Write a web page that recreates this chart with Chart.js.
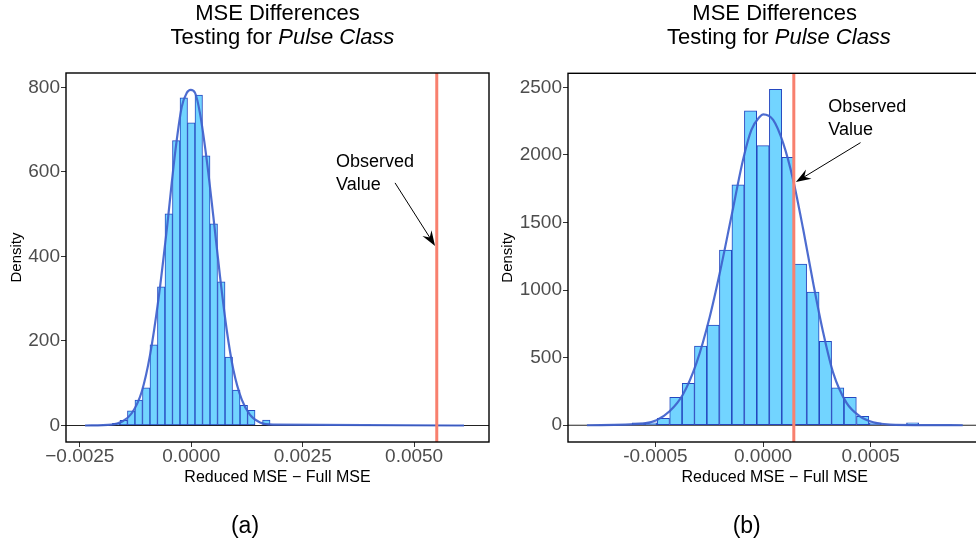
<!DOCTYPE html>
<html>
<head>
<meta charset="utf-8">
<script src="https://cdn.jsdelivr.net/npm/chart.js@4.4.1/dist/chart.umd.min.js"></script>
<style>
  html, body { margin: 0; padding: 0; width: 976px; height: 548px; overflow: hidden; background: #fff; }
  body { position: relative; font-family: "Liberation Sans", Arial, sans-serif; }
  .panel { position: absolute; top: 0; }
  .txt { position: absolute; width: 400px; text-align: center; white-space: pre; color: #000; }
  .title { font-size: 22px; line-height: 22px; }
  .cap { font-size: 23px; line-height: 23px; }
</style>
</head>
<body>
<div class="panel" style="left:0;width:490px;height:548px"><canvas id="chartA" width="490" height="548"></canvas></div>
<div class="panel" style="left:490px;width:496px;height:548px"><canvas id="chartB" width="496" height="548"></canvas></div>

<div class="txt title" style="left:77.5px;top:2px">MSE Differences</div>
<div class="txt title" style="left:82.5px;top:26.4px">Testing for <i>Pulse Class</i></div>
<div class="txt title" style="left:574.7px;top:2px">MSE Differences</div>
<div class="txt title" style="left:579px;top:26.4px">Testing for <i>Pulse Class</i></div>
<div class="txt cap" style="left:45px;top:513.6px">(a)</div>
<div class="txt cap" style="left:546.7px;top:513.6px">(b)</div>

<script>
const fontFamily = '"Liberation Sans", Arial, sans-serif';

// ---- panel (a) ----
const binsA = [-0.001684, -0.001516, -0.001347, -0.001179, -0.001010, -0.000842, -0.000674,
  -0.000505, -0.000337, -0.000168, 0, 0.000168, 0.000337, 0.000505, 0.000674, 0.000842,
  0.001010, 0.001179, 0.001347, 0.001516, 0.001684];
const densA = [5, 12, 35, 60, 89, 191, 328, 501, 674, 775, 716, 782, 638, 477, 340, 162,
  84, 48, 36, 0, 13];
const curveXA = [-0.002383, -0.001784, -0.001560, -0.001335, -0.001111, -0.000924, -0.000738,
  -0.000550, -0.000363, -0.000213, -0.000101, -0.000011, 0.000085, 0.000197, 0.000348,
  0.000496, 0.000646, 0.000796, 0.000945, 0.001133, 0.001319, 0.001543, 0.001842, 0.00612];
const curveYA = [0, 2, 9, 29, 80, 167, 297, 463, 644, 754, 787, 794, 787, 738, 628,
  494, 352, 226, 132, 61, 25, 7, 2, 0];
const xTicksA = [-0.0025, 0, 0.0025, 0.005];
const xLabelsA = ['\u22120.0025', '0.0000', '0.0025', '0.0050'];
const yTicksA = [0, 200, 400, 600, 800];
const xLimA = [-0.00281, 0.00668];
const yLimA = [-39, 834];
const observedA = 0.005508;
const noteXYA = [0.003249, 611];
const arrowFromA = [0.004572, 574];
const arrowToA = [0.00547, 425];

// ---- panel (b) ----
const binsB = [-0.000579, -0.000521, -0.000463, -0.000405, -0.000347, -0.000290, -0.000232,
  -0.000174, -0.000116, -0.000058, 0, 0.000058, 0.000116, 0.000174, 0.000232, 0.000290,
  0.000347, 0.000405, 0.000463, 0.000521, 0.000579, 0.000637, 0.000695];
const densB = [17, 17, 52, 207, 310, 586, 741, 1296, 1778, 2327, 2069, 2485, 1983, 1192,
  985, 621, 276, 207, 66, 17, 0, 0, 17];
const curveXB = [-0.000818, -0.000558, -0.000495, -0.000434, -0.000372, -0.000309, -0.000247,
  -0.000201, -0.000147, -0.000093, -0.000054, -0.000015, 0.0000005, 0.000047, 0.000094,
  0.000140, 0.000187, 0.000233, 0.000280, 0.000326, 0.000388, 0.000450, 0.000512, 0.000590,
  0.000928];
const curveYB = [0, 12, 37, 103, 227, 461, 805, 1126, 1544, 1963, 2185, 2283, 2300, 2259,
  2086, 1815, 1446, 1052, 682, 387, 165, 66, 22, 5, 0];
const xTicksB = [-0.0005, 0, 0.0005];
const xLabelsB = ['-0.0005', '0.0000', '0.0005'];
const yTicksB = [0, 500, 1000, 1500, 2000, 2500];
const xLimB = [-0.000906, 0.001014];
const yLimB = [-124, 2604];
const observedB = 0.000143;
const noteXYB = [0.000303, 2320];
const arrowFromB = [0.000453, 2091];
const arrowToB = [0.0001526, 1800];

const noteLines = ['Observed', 'Value'];

function drawArrow(ctx, x1, y1, x2, y2) {
  const ang = Math.atan2(y2 - y1, x2 - x1);
  const len = 16, spread = 0.34;
  ctx.beginPath();
  ctx.moveTo(x1, y1);
  ctx.lineTo(x2 - Math.cos(ang) * 9, y2 - Math.sin(ang) * 9);
  ctx.stroke();
  ctx.beginPath();
  ctx.moveTo(x2, y2);
  ctx.lineTo(x2 - len * Math.cos(ang - spread), y2 - len * Math.sin(ang - spread));
  ctx.lineTo(x2 - len * 0.62 * Math.cos(ang), y2 - len * 0.62 * Math.sin(ang));
  ctx.lineTo(x2 - len * Math.cos(ang + spread), y2 - len * Math.sin(ang + spread));
  ctx.closePath();
  ctx.fill();
}

const boxPlugin = {
  id: 'box',
  afterDraw(chart) {
    const { ctx, chartArea: a } = chart;
    ctx.save();
    ctx.strokeStyle = '#000';
    ctx.lineWidth = 1.4;
    ctx.strokeRect(a.left, a.top, a.right - a.left, a.bottom - a.top);
    ctx.restore();
  }
};

const notePlugin = {
  id: 'note',
  afterDatasetsDraw(chart, args, opts) {
    const { ctx, scales: { x, y } } = chart;
    ctx.save();
    ctx.fillStyle = '#000';
    ctx.strokeStyle = '#000';
    ctx.lineWidth = 1;
    ctx.font = '18px ' + fontFamily;
    ctx.textAlign = 'left';
    ctx.textBaseline = 'alphabetic';
    const tx = x.getPixelForValue(opts.at[0]);
    const ty = y.getPixelForValue(opts.at[1]);
    noteLines.forEach((t, i) => ctx.fillText(t, tx, ty + i * opts.gap));
    drawArrow(ctx,
      x.getPixelForValue(opts.from[0]), y.getPixelForValue(opts.from[1]),
      x.getPixelForValue(opts.to[0]), y.getPixelForValue(opts.to[1]));
    ctx.restore();
  }
};

function buildChart(id, p) {
  return new Chart(document.getElementById(id), {
    type: 'bar',
    data: {
      datasets: [
        {
          type: 'line',
          data: [{ x: p.observed, y: p.yLim[0] }, { x: p.observed, y: p.yLim[1] }],
          borderColor: '#F8806E', borderWidth: 3, pointRadius: 0, order: 0
        },
        {
          type: 'line',
          data: p.curveX.map((v, i) => ({ x: v, y: p.curveY[i] })),
          borderColor: 'rgba(62,96,204,0.92)', borderWidth: 2.2, pointRadius: 0,
          cubicInterpolationMode: 'monotone', order: 1
        },
        {
          type: 'bar',
          data: p.bins.map((v, i) => ({ x: v, y: p.dens[i] })),
          backgroundColor: '#72D4FF', borderColor: '#2447C0', borderWidth: 1,
          borderSkipped: false, barPercentage: 1, categoryPercentage: 1, order: 2
        },
        {
          type: 'line',
          data: [{ x: p.xLim[0], y: 0 }, { x: p.xLim[1], y: 0 }],
          borderColor: '#222', borderWidth: 1, pointRadius: 0, order: 3
        }
      ]
    },
    options: {
      responsive: false,
      animation: false,
      events: [],
      layout: { padding: { top: p.padTop, right: p.padRight, left: 0, bottom: 0 } },
      plugins: {
        legend: { display: false },
        tooltip: { enabled: false },
        note: { at: p.noteXY, from: p.arrowFrom, to: p.arrowTo, gap: p.gap }
      },
      scales: {
        x: {
          type: 'linear', min: p.xLim[0], max: p.xLim[1], offset: false, bounds: 'data',
          afterBuildTicks: s => { s.ticks = p.xTicks.map(v => ({ value: v })); },
          afterFit: s => { s.height = 106; },
          ticks: {
            callback: (v, i) => p.xLabels[i], color: '#4D4D4D',
            font: { family: fontFamily, size: 19 }, padding: -2, maxRotation: 0, autoSkip: false
          },
          grid: { display: true, drawOnChartArea: false, drawTicks: true, tickLength: 5, color: '#333', offset: false },
          border: { display: false },
          title: {
            display: true, text: 'Reduced MSE \u2212 Full MSE', color: '#000',
            font: { family: fontFamily, size: 16 }, padding: { top: 0, bottom: 61 }
          }
        },
        y: {
          type: 'linear', min: p.yLim[0], max: p.yLim[1], bounds: 'data',
          afterBuildTicks: s => { s.ticks = p.yTicks.map(v => ({ value: v })); },
          afterFit: s => { s.width = p.yWidth; },
          ticks: {
            callback: v => String(v), color: '#4D4D4D',
            font: { family: fontFamily, size: 19 }, padding: 1, autoSkip: false
          },
          grid: { display: true, drawOnChartArea: false, drawTicks: true, tickLength: 5, color: '#333' },
          border: { display: false },
          title: {
            display: true, text: 'Density', color: '#000',
            font: { family: fontFamily, size: 15 }, padding: { top: p.titlePad, bottom: 0 }
          }
        }
      }
    },
    plugins: [boxPlugin, notePlugin]
  });
}

buildChart('chartA', {
  bins: binsA, dens: densA, curveX: curveXA, curveY: curveYA,
  xTicks: xTicksA, xLabels: xLabelsA, yTicks: yTicksA,
  xLim: xLimA, yLim: yLimA, observed: observedA,
  noteXY: noteXYA, arrowFrom: arrowFromA, arrowTo: arrowToA, gap: 22.6,
  padTop: 73, padRight: 1, yWidth: 66, titlePad: 7.5
});

buildChart('chartB', {
  bins: binsB, dens: densB, curveX: curveXB, curveY: curveYB,
  xTicks: xTicksB, xLabels: xLabelsB, yTicks: yTicksB,
  xLim: xLimB, yLim: yLimB, observed: observedB,
  noteXY: noteXYB, arrowFrom: arrowFromB, arrowTo: arrowToB, gap: 23.3,
  padTop: 73.3, padRight: 4.7, yWidth: 78, titlePad: 9
});
</script>
</body>
</html>
